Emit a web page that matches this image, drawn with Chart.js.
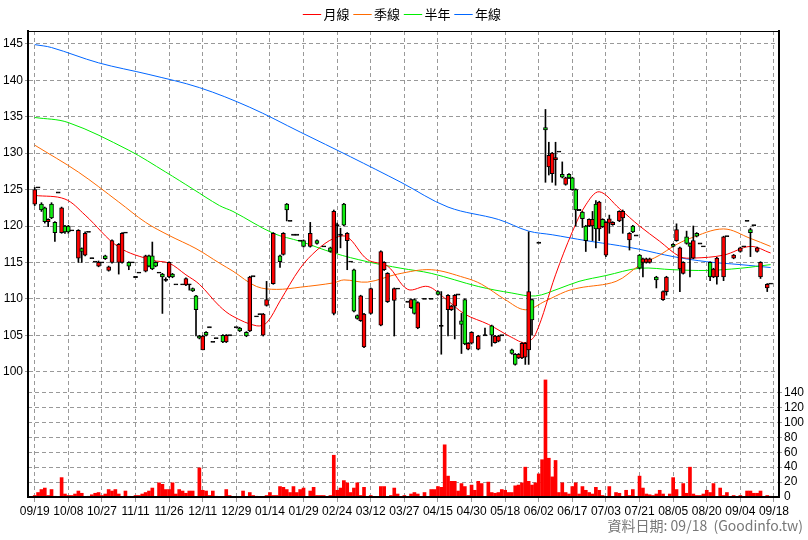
<!DOCTYPE html>
<html>
<head>
<meta charset="utf-8">
<script src="https://cdn.jsdelivr.net/npm/chart.js@4"></script>
<style>
  html, body { margin: 0; padding: 0; background: #fff; }
  #wrap { width: 808px; height: 540px; }
</style>
</head>
<body>
<div id="wrap"><canvas id="kChart" width="808" height="540"></canvas></div>
<script>
// ----------------------------
// Daten
// ----------------------------
const dateLabels = ['09/19','10/08','10/27','11/11','11/26','12/11','12/29','01/14','01/29','02/24','03/12',
  '03/27','04/15','04/30','05/18','06/02','06/17','07/03','07/21','08/05','08/20','09/04','09/18'];
const footerText = '資料日期: 09/18  (Goodinfo.tw)';

// [open, high, low, close] je Handelstag, null = nicht ablesbar
const candles = [
  [123,125.3,122.8,125],[125.3,125.3,125.3,125.3],[123,123.2,122,122.2],[122.5,122.6,120.4,120.6],[120.6,121,119.9,120.9],
  [123,123.2,121,121.1],[120.5,120.6,117.9,119.1],[124.6,124.6,124.6,124.6],[119.1,122.6,119,122.5],[120,120.1,119,119.2],
  [120,120.1,119,119.2],[119.4,119.4,119.4,119.4],null,[115.6,119.5,115,119.4],[116.9,117,115,116.5],
  [116,119.2,115.9,119],[119.2,119.2,119.2,119.2],[115.6,115.6,115.6,115.6],[115.1,115.1,115.1,115.1],[114.5,115.2,114.4,115],
  [115,115,115,115],[115.9,116,115.4,115.5],[113.9,114.5,113.8,114.4],[115,118.1,114.9,118],null,
  [115,117.6,113.4,117.5],[115,119.1,114.9,119],[119.1,119.1,119.1,119.1],[115,115.1,114,114.5],[115,115,115,115],
  [113,113,113,113],[113.6,113.6,113.6,113.6],null,[113.8,116,113.7,115.9],[115.9,116,114.4,114.5],
  [115.9,117.8,114,114.1],[115,115.1,114.4,114.5],[113.6,113.6,113.6,113.6],[113.4,113.5,108,113],[112.6,112.9,112.4,112.6],
  [113,115.1,112.9,115],[113.4,113.5,112.9,113],[112,112,112,112],null,[112,112,112,112],
  [111.9,112.9,111.8,112.8],[112,112,111.2,112],[111.4,111.5,111,111.1],[110.4,110.5,104.9,108.5],[104.9,105,104.5,104.6],
  [103,105,103,104.9],[105.4,105.5,104.9,105],[106.1,106.1,106.1,106.1],[104.1,104.1,104.1,104.1],[104.6,104.6,104.6,104.6],
  null,[105,105.1,104,104.1],[104.1,105.1,104,105],[105,105,105,105],null,
  [106.1,106.1,106.1,106.1],[106,106.1,105.5,105.6],null,[105.4,105.5,104.8,104.9],[105.6,113.1,105.5,113],
  [113.1,113.1,113.1,113.1],[107.6,107.6,107.6,107.6],[107.9,107.9,107.9,107.9],[105,108,104.9,107.9],[109.1,112.4,109,109.9],
  null,[112.1,119.1,112,119],null,[115.9,116,114.3,115.1],[116.1,119.1,116,119],
  [123,123.1,120.7,122.2],[120.7,120.7,120.7,120.7],[118.8,118.8,118.8,118.8],[118.8,118.8,118.8,118.8],[118,118,118,118],
  [118,118.1,117.1,117.2],null,[117.2,120.5,117.1,119],null,[118,118.1,117.5,117.6],
  null,[117.2,117.2,117.2,117.2],null,[117,117.1,116.4,116.5],[108,122.2,107.8,122],
  [120.1,120.4,116.3,120.1],[118.8,119.7,117,118.8],[123,123.1,120,120.1],[118,119.1,114,119],[115.1,115.1,115.1,115.1],
  [114,114.1,108.2,108.3],[107.7,107.8,107.2,107.3],[107,110.5,106.9,110.4],[103.4,108,103.3,107.9],null,
  [108,111.5,107.9,111.4],null,null,[106.4,116.6,106.3,116.5],[114,115.1,113.9,115],
  [109.6,113.6,109.5,113.5],null,[109.8,111.5,104.9,111.4],[111.4,111.4,111.4,111.4],null,
  null,[109.6,109.6,109.6,109.6],[108.8,110,108.7,109.9],[109.9,110,107.9,108],[106,109.6,105.9,109.5],
  null,[110,110,110,110],null,[110,110,110,110],null,
  [111,111.1,110.5,110.6],[106.3,111,102.4,106.3],null,[108.5,110.6,104.9,110.5],[108.5,109.1,108.4,109],
  [109,110.6,104.5,110.5],[110.6,110.6,110.6,110.6],[107,108,102.5,106.5],[109.9,110,103.7,103.8],[103.1,104,103,103.9],
  [103.9,105.5,103.8,105.4],null,[103.1,105,103,104.9],null,[105,106,105,105],
  null,[106.3,106.4,103.5,105],[104,105,103.9,104.9],[104.2,105,104.1,104.9],[105,105,105,105],
  null,null,[103,103.1,102.4,102.5],[102.4,102.5,100.9,101],[101.9,102.5,101.8,102.4],
  [101.9,104,101.8,103.9],[102,104,101,103.9],[103,119.2,101,111],[109.9,110,105,107.1],null,
  [117.7,117.7,117.7,117.7],null,[133.5,136,126,133.2],[128.1,131.5,127,129.7],[127.2,130.1,126,130],
  [129.1,131.5,125.6,129.4],[130.2,130.2,130.2,130.2],[127.1,128.8,126.6,126.7],[125.7,126.7,125.6,126.6],[127.1,127.2,126.5,126.6],
  [126.6,126.7,124.9,125],[125,125.1,120,122.2],[122.2,122.2,122.2,122.2],[121.9,122,119.8,121],[120,120.1,116.5,118],
  [120,121,119.9,120.9],[120,122,118,120.9],[123,123.5,117,119.6],[119.6,123.4,118,123.3],[120.9,121,119.8,119.9],
  [116,120.6,115.8,120.5],[120.4,121.5,119,121],[120.2,120.6,120.1,120.5],null,[120.7,122.1,120.6,122],
  [121.1,122.2,119,122],null,[118.1,119.1,116.7,119],[120,120.1,119.1,119.2],[118.7,118.7,118.7,118.7],
  [116,116.1,114.1,114.2],[115,115.6,113,115.5],[115,115.6,114.9,115.5],[115,115.6,114.9,115.5],null,
  [113,113.1,111.5,112.6],null,[109.9,111.1,109.8,111],[111,113.1,110.5,113],null,
  [117.5,117.6,117.1,117.2],[118,120.3,117.9,119.5],[114.1,117.1,111,117],[113.5,115.1,113.4,115],[118.5,119.3,117.5,117.6],
  [117.6,117.7,113,117.2],[115.6,120,115.5,118],[119,119.1,118.5,118.6],[117.6,117.6,117.6,117.6],[117.2,117.2,117.2,117.2],
  null,[115,115.1,112.5,113],[113,114.2,112.9,114.1],[113,115.7,112,115.6],null,
  [113,118.6,112.5,118.5],[118.6,118.6,118.6,118.6],null,[115.6,116.1,115.5,116],null,
  [116.5,117.1,116.4,117],[117.2,117.2,117.2,117.2],[120.7,120.7,120.7,120.7],[119.5,119.7,115.8,119.1],[120.1,120.1,120.1,120.1],
  [116.5,117.1,116.4,117],[113,115.1,112.8,115],null,[111.5,112.1,111,112],[112.1,112.1,112.1,112.1]
];

// Volumen (Tausend Lose), gleicher Index wie candles
const volume = [
  2,6,10,12,2,10,1,0,26,4, 2,2,4,8,5,0,1,3,5,6, 2,4,10,8,10,4,0,8,1,0,
  2,2,4,6,8,12,0,19,17,10, 10,19,4,10,8,5,8,8,0,39, 9,8,2,8,1,0,0,10,2,0,
  0,0,8,0,6,2,1,0,0,2, 6,2,2,14,13,10,6,14,6,10, 12,0,8,13,2,2,2,0,2,56,
  9,12,22,19,6,12,19,2,13,0, 2,0,0,14,14,0,2,12,4,0, 2,0,4,6,4,0,6,0,10,10,
  14,13,70,28,21,21,8,18,14,2, 16,9,21,18,0,20,6,5,6,10, 9,6,6,15,16,19,40,21,16,19,
  31,50,157,52,27,49,6,19,6,4, 14,19,4,14,9,6,4,13,9,2, 0,14,0,6,5,0,9,2,10,0,
  28,12,4,3,2,4,9,4,0,4, 26,10,0,18,5,40,4,2,2,4, 9,6,18,0,12,2,6,0,2,0,
  2,0,8,8,5,5,8,0,2,1
];

// Durchschnittslinien [Tagesindex, Wert]
const maMonth = [[0,124.2],[9,123.7],[15,121.5],[25,117.1],[35,115.3],[40,114.9],[45,113.3],[49,112],[55,109],[59,107.6],
  [66,106.3],[69,106.7],[73,109.7],[79,114.2],[84,116.7],[89,118.3],[93,118.5],[99,115.4],[105,114.5],[111,111.3],
  [117,111.7],[122,110.1],[128,107.9],[135,106.5],[142,104.7],[146,104],[149,105.1],[155,113.3],[160,119.2],[164,122.9],
  [168,124.7],[174,122.4],[180,120],[186,117.9],[192,115.8],[196,115.6],[205,116],[213,117.2],[219,116.3]];
const maQuarter = [[0,131.1],[13,127.4],[25,123.3],[33,120.5],[40,118.7],[48,116.9],[55,114.9],[59,113.8],[66,111.7],[72,111.3],
  [79,111.6],[89,112.2],[92,112.6],[99,112.3],[108,113.4],[118,114],[128,112.9],[133,112],[140,109.9],[146,108.5],
  [152,109.7],[158,111],[162,111.5],[173,112.4],[180,114.6],[186,116],[190,117.2],[195,118.3],[205,119.6],[213,118.3],[219,117.2]];
const maHalf = [[0,134.9],[10,134.2],[28,130.4],[39,127.4],[47,125.1],[55,122.8],[59,122],[71,119],[79,117.9],[89,116.3],
  [99,115.1],[109,114.2],[118,113.5],[132,111.7],[142,110.8],[149,110.4],[156,111.4],[162,112.4],[170,113.2],[180,114.2],
  [190,114],[200,113.9],[210,114.2],[219,114.7]];
const maYear = [[0,144.9],[5,144.5],[19,142.4],[34,140.8],[49,139],[64,136.3],[79,132.9],[94,129.5],[109,126],[123,122.6],
  [138,120.9],[147,119.3],[154,118.8],[164,118],[174,117.3],[180,116.8],[190,115.8],[200,115.1],[210,114.7],[219,114.3]];

const priceTicks = [100,105,110,115,120,125,130,135,140,145];
const volumeTicks = [0,20,40,60,80,100,120,140];

// ----------------------------
// Datensätze bauen
// ----------------------------
const wickData = [], bodyData = [], bodyColors = [];
candles.forEach((c, i) => {
  if (!c) return;
  const [o, h, l, cl] = c;
  wickData.push({ x: i, y: [l, h] });
  if (o === cl) {
    bodyData.push({ x: i, y: [o - 0.08, o + 0.08] });
    bodyColors.push('#000');
  } else {
    bodyData.push({ x: i, y: [o, cl] });
    bodyColors.push(cl > o ? '#ff0000' : '#11ee11');
  }
});
const volData = volume.map((v, i) => ({ x: i, y: v }));
const toPts = arr => arr.map(p => ({ x: p[0], y: p[1] }));

function maSet(label, data, color) {
  return {
    type: 'line', label, data: toPts(data), yAxisID: 'y',
    borderColor: color, backgroundColor: color, borderWidth: 1,
    pointRadius: 0, tension: 0.35, order: 5
  };
}

// Rahmen + Fusszeile
const framePlugin = {
  id: 'frame',
  afterDraw(chart) {
    const { ctx, chartArea: a } = chart;
    ctx.save();
    ctx.strokeStyle = '#000';
    ctx.lineWidth = 1;
    ctx.beginPath();
    ctx.moveTo(a.left, a.top + 0.5); ctx.lineTo(a.right, a.top + 0.5);
    ctx.moveTo(a.right + 0.5, a.top); ctx.lineTo(a.right + 0.5, a.bottom);
    ctx.stroke();
    ctx.lineWidth = 2;
    ctx.beginPath();
    ctx.moveTo(a.left, a.bottom); ctx.lineTo(a.right, a.bottom);
    ctx.stroke();
    ctx.fillStyle = '#777';
    ctx.font = '14px "Noto Sans CJK TC"';
    ctx.textAlign = 'right';
    ctx.textBaseline = 'middle';
    ctx.fillText(footerText, 803, 526);
    ctx.restore();
  }
};

const tickFont = { family: 'Liberation Sans, Arial', size: 12 };

new Chart(document.getElementById('kChart'), {
  data: {
    datasets: [
      maSet('月線', maMonth, '#ff0000'),
      maSet('季線', maQuarter, '#ff6a00'),
      maSet('半年', maHalf, '#00ee00'),
      maSet('年線', maYear, '#0066ff'),
      { type: 'bar', label: 'wick', data: wickData, yAxisID: 'y', backgroundColor: '#000',
        barThickness: 1, grouped: false, order: 3 },
      { type: 'bar', label: 'body', data: bodyData, yAxisID: 'y', backgroundColor: bodyColors,
        borderColor: '#000', borderWidth: 1, borderSkipped: false, barThickness: 4, grouped: false, order: 1 },
      { type: 'bar', label: 'vol', data: volData, yAxisID: 'yv', backgroundColor: '#ff0000',
        barThickness: 3, grouped: false, order: 2 }
    ]
  },
  options: {
    responsive: false,
    maintainAspectRatio: false,
    animation: false,
    layout: { padding: 0 },
    plugins: {
      legend: {
        display: true,
        labels: {
          filter: item => ['月線','季線','半年','年線'].includes(item.text),
          usePointStyle: true, pointStyle: 'line', boxWidth: 10, padding: 8,
          color: '#000', font: { family: 'Noto Sans CJK TC', size: 13 }
        }
      },
      tooltip: { enabled: false }
    },
    scales: {
      x: {
        type: 'linear', min: -2, max: 221.5, offset: false,
        afterBuildTicks: axis => { axis.ticks = dateLabels.map((d, k) => ({ value: k * 10 })); },
        afterFit: axis => { axis.height = 43; },
        ticks: { callback: v => dateLabels[v / 10], color: '#000', font: tickFont, maxRotation: 0, autoSkip: false, padding: 2 },
        grid: { color: '#999', tickLength: 5, offset: false },
        border: { display: false, dash: [4, 3] }
      },
      y: {
        position: 'left', min: 82.8, max: 146.77,
        afterBuildTicks: axis => { axis.ticks = priceTicks.map(v => ({ value: v })); },
        afterFit: axis => { axis.width = 28; },
        ticks: { color: '#000', font: tickFont, padding: 2 },
        grid: { color: '#999', tickLength: 3 },
        border: { display: true, color: '#000', width: 2, dash: [4, 3] }
      },
      yv: {
        position: 'right', min: 0, max: 625,
        afterBuildTicks: axis => { axis.ticks = volumeTicks.map(v => ({ value: v })); },
        afterFit: axis => { axis.width = 29; },
        ticks: { color: '#000', font: tickFont, padding: 2, callback: v => v === 0 ? '0' : v },
        grid: { color: ctx => ctx.tick && ctx.tick.value === 0 ? 'rgba(0,0,0,0)' : '#999', tickLength: 3 },
        border: { display: true, color: '#000', width: 2, dash: [4, 3] }
      }
    }
  },
  plugins: [framePlugin]
});
</script>
</body>
</html>
